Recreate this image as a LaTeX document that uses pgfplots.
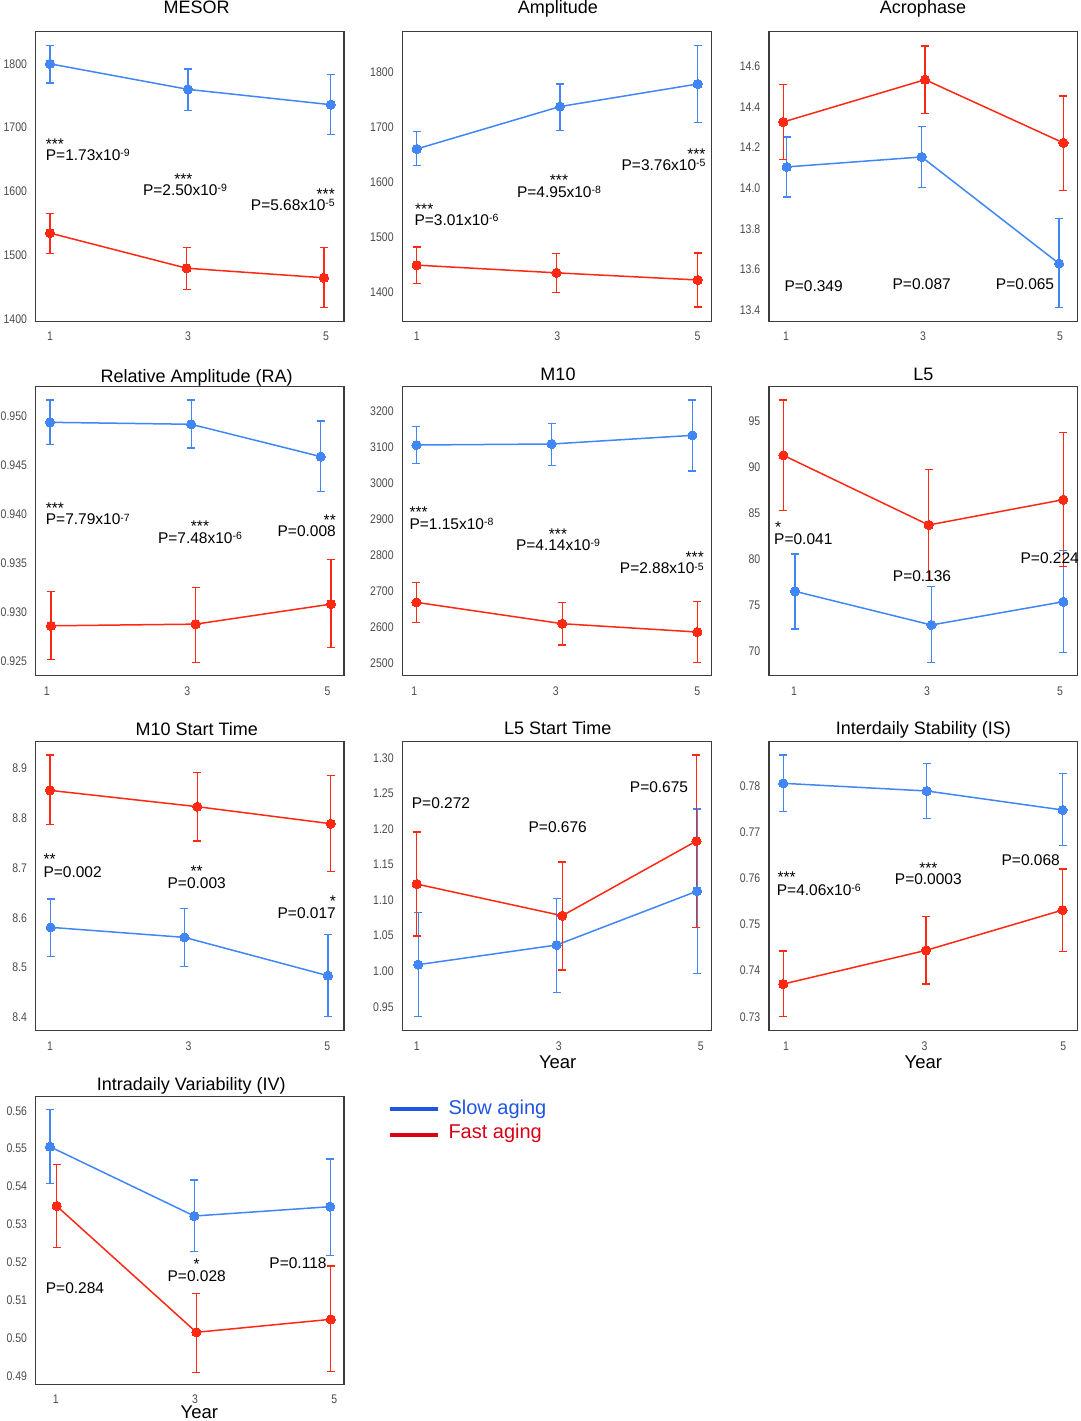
\documentclass[border=0pt]{standalone}
\usepackage{fontspec}
\setmainfont{Liberation Sans}
\newfontfamily\tickfontfam[FakeStretch=0.84]{Liberation Sans}
\usepackage{pgfplots}
\pgfplotsset{compat=1.18}
\definecolor{cblue}{RGB}{64,134,246}
\definecolor{cred}{RGB}{255,40,18}
\definecolor{lblue}{RGB}{30,85,225}
\definecolor{lred}{RGB}{220,0,20}
\definecolor{axgray}{RGB}{60,60,60}
\definecolor{tickgray}{RGB}{75,75,75}
\newcommand{\tickfont}{\tickfontfam\fontsize{12.5}{14}\selectfont}
\newcommand{\pfont}{\fontsize{15.5}{18}\selectfont}
\newcommand{\tfont}{\fontsize{18}{21}\selectfont}
\newcommand{\sups}[1]{\raisebox{3.6pt}{\fontsize{10.5}{12}\selectfont #1}}
\newcommand{\T}[4]{\node[anchor=#1,inner sep=0pt,font=\pfont] at (#2pt,#3pt) {#4};}
\newcommand{\ST}[4]{\node[anchor=#1,inner sep=0pt,font=\pfont] at (#2pt,#3pt+1.5pt) {#4};}
\newcommand{\TT}[3]{\node[anchor=base,inner sep=0pt,font=\tfont] at (#1pt,#2pt) {#3};}
\pgfplotsset{
  panel/.style={scale only axis, anchor=south west, clip=false,
    width=308.5pt, height=289pt,
    axis line style={draw=axgray, line width=1.3pt},
    xtick={1,3,5}, major tick length=0pt, tick style={draw=none},
    tick label style={font=\tickfont, text=tickgray},
    /pgf/number format/assume math mode=true,
    scaled ticks=false,
    xticklabel style={inner sep=0pt, yshift=-10.7pt},
    yticklabel style={inner sep=0pt, xshift=-8.5pt},
  },
  prec/.style={yticklabel style={/pgf/number format/.cd, fixed, fixed zerofill, precision=#1, 1000 sep={}}},
  blueS/.style={color=cblue, line width=1.5pt, mark=*, mark size=4.6pt,
    mark options={solid, fill=cblue, draw=cblue, line width=0pt},
    error bars/.cd, y dir=both, y explicit,
    error bar style={line width=1.2pt, cblue},
    error mark options={rotate=90, mark size=4pt, line width=1.2pt, cblue}},
  redS/.style={color=cred, line width=1.5pt, mark=*, mark size=4.6pt,
    mark options={solid, fill=cred, draw=cred, line width=0pt},
    error bars/.cd, y dir=both, y explicit,
    error bar style={line width=1.2pt, cred},
    error mark options={rotate=90, mark size=4pt, line width=1.2pt, cred}},
}
\begin{document}
\begin{tikzpicture}
\useasboundingbox (0pt,0pt) rectangle (1080pt,1421pt);
% 1 MESOR
\begin{axis}[panel, prec=0, at={(35.7pt,1099.7pt)}, width=308.3pt, height=289.6pt,
  xmin=0.793, xmax=5.261, ymin=1396.9, ymax=1850.3, ytick={1400,1500,1600,1700,1800}]
\addplot[blueS] coordinates {(1,1800) += (0,29) -= (0,30) (3,1760) += (0,32) -= (0,33) (5.07,1736) += (0,47) -= (0,47)};
\addplot[redS] coordinates {(1,1535) += (0,31) -= (0,32) (2.98,1480) += (0,33) -= (0,33) (4.97,1465) += (0,47) -= (0,47)};
\end{axis}
% 2 Amplitude
\begin{axis}[panel, prec=0, at={(402.3pt,1099.7pt)}, width=309.4pt, height=289.6pt,
  xmin=0.795, xmax=5.2, ymin=1347, ymax=1873, ytick={1400,1500,1600,1700,1800}]
\addplot[blueS] coordinates {(1,1660) += (0,31) -= (0,30) (3.04,1737) += (0,41) -= (0,43) (5,1778) += (0,70) -= (0,70)};
\addplot[redS] coordinates {(1,1449) += (0,33) -= (0,34) (2.99,1435) += (0,35) -= (0,35) (5,1422) += (0,49) -= (0,49)};
\end{axis}
% 3 Acrophase
\begin{axis}[panel, prec=1, at={(769pt,1099.7pt)}, width=308.7pt, height=289.6pt,
  xmin=0.752, xmax=5.258, ymin=13.346, ymax=14.77, ytick={13.4,13.6,13.8,14.0,14.2,14.4,14.6}]
\addplot[blueS] coordinates {(1.01,14.105) += (0,0.147) -= (0,0.148) (2.98,14.154) += (0,0.148) -= (0,0.151) (4.985,13.63) += (0,0.22) -= (0,0.217)};
\addplot[redS] coordinates {(0.96,14.326) += (0,0.184) -= (0,0.183) (3.03,14.534) += (0,0.166) -= (0,0.165) (5.05,14.223) += (0,0.231) -= (0,0.233)};
\end{axis}
% 4 RA
\begin{axis}[panel, prec=3, at={(35.7pt,745.3pt)}, width=308.3pt,
  xmin=0.843, xmax=5.233, ymin=0.92347, ymax=0.95307, ytick={0.925,0.930,0.935,0.940,0.945,0.950}]
\addplot[blueS] coordinates {(1.047,0.94942) += (0,0.00228) -= (0,0.00225) (3.057,0.94922) += (0,0.00248) -= (0,0.00242) (4.90,0.94591) += (0,0.00365) -= (0,0.00358)};
\addplot[redS] coordinates {(1.06,0.92858) += (0,0.00352) -= (0,0.00348) (3.12,0.92875) += (0,0.00378) -= (0,0.00389) (5.047,0.9308) += (0,0.00457) -= (0,0.00444)};
\end{axis}
% 5 M10
\begin{axis}[panel, prec=0, at={(402.3pt,745.3pt)}, width=309.4pt,
  xmin=0.83, xmax=5.203, ymin=2465.8, ymax=3267.5, ytick={2500,2600,2700,2800,2900,3000,3100,3200}]
\addplot[blueS] coordinates {(1.03,3105.7) += (0,51) -= (0,52) (2.94,3108.5) += (0,57) -= (0,60) (4.93,3132.5) += (0,98) -= (0,99)};
\addplot[redS] coordinates {(1.03,2669.2) += (0,55) -= (0,55) (3.09,2610) += (0,58) -= (0,59) (5.0,2586.9) += (0,84) -= (0,84)};
\end{axis}
% 6 L5
\begin{axis}[panel, prec=0, at={(769pt,745.3pt)}, width=308.7pt,
  xmin=0.624, xmax=5.266, ymin=67.39, ymax=98.8, ytick={70,75,80,85,90,95}]
\addplot[blueS] coordinates {(1.015,76.56) += (0,4.06) -= (0,4.1) (3.066,72.9) += (0,4.17) -= (0,4.06) (5.05,75.43) += (0,5.55) -= (0,5.5)};
\addplot[redS] coordinates {(0.84,91.34) += (0,6.02) -= (0,6.01) (3.025,83.77) += (0,6.05) -= (0,6.05) (5.05,86.52) += (0,7.32) -= (0,7.28)};
\end{axis}
% 7 M10 Start Time
\begin{axis}[panel, prec=1, at={(35.7pt,390.3pt)}, width=308.3pt,
  xmin=0.794, xmax=5.241, ymin=8.3732, ymax=8.9535, ytick={8.4,8.5,8.6,8.7,8.8,8.9}]
\addplot[blueS] coordinates {(1.01,8.5807) += (0,0.0569) -= (0,0.0582) (2.94,8.5606) += (0,0.0583) -= (0,0.0582) (5.01,8.4836) += (0,0.083) -= (0,0.0823)};
\addplot[redS] coordinates {(1.0,8.8558) += (0,0.071) -= (0,0.0682) (3.125,8.823) += (0,0.0683) -= (0,0.0689) (5.05,8.7888) += (0,0.0971) -= (0,0.0964)};
\end{axis}
% 8 L5 Start Time
\begin{axis}[panel, prec=2, at={(402.3pt,390.3pt)}, width=309.4pt,
  xmin=0.797, xmax=5.155, ymin=0.9163, ymax=1.3225, ytick={0.95,1.00,1.05,1.10,1.15,1.20,1.25,1.30}]
\addplot[blueS] coordinates {(1.02,1.0091) += (0,0.0735) -= (0,0.0732) (2.97,1.0367) += (0,0.0656) -= (0,0.0671) (4.95,1.1125) += (0,0.1153) -= (0,0.1156)};
\addplot[redS] coordinates {(1.0,1.1224) += (0,0.0731) -= (0,0.0731) (3.05,1.0779) += (0,0.0755) -= (0,0.0763) (4.94,1.1829) += (0,0.1208) -= (0,0.1214)};
\end{axis}
% 9 IS
\begin{axis}[panel, prec=2, at={(769pt,390.3pt)}, width=308.7pt,
  xmin=0.755, xmax=5.208, ymin=0.72697, ymax=0.7896, ytick={0.73,0.74,0.75,0.76,0.77,0.78}]
\addplot[blueS] coordinates {(0.96,0.78058) += (0,0.00614) -= (0,0.00614) (3.03,0.77892) += (0,0.006) -= (0,0.006) (4.99,0.7748) += (0,0.00787) -= (0,0.00766)};
\addplot[redS] coordinates {(0.96,0.73708) += (0,0.00715) -= (0,0.00708) (3.02,0.74438) += (0,0.0073) -= (0,0.0073) (4.99,0.75312) += (0,0.0089) -= (0,0.00904)};
\end{axis}
% 10 IV
\begin{axis}[panel, prec=2, at={(35.7pt,36.7pt)}, width=308.3pt, height=287.6pt,
  xmin=0.713, xmax=5.139, ymin=0.4878, ymax=0.5637, ytick={0.49,0.50,0.51,0.52,0.53,0.54,0.55,0.56}]
\addplot[blueS] coordinates {(0.918,0.5505) += (0,0.00985) -= (0,0.00976) (2.99,0.53221) += (0,0.0095) -= (0,0.00941) (4.94,0.53467) += (0,0.01258) -= (0,0.01293)};
\addplot[redS] coordinates {(1.014,0.53485) += (0,0.01099) -= (0,0.01091) (3.02,0.50152) += (0,0.01029) -= (0,0.01059) (4.95,0.50495) += (0,0.01405) -= (0,0.01384)};
\end{axis}
% titles
\TT{196.7}{1407}{MESOR}
\TT{557.8}{1407.7}{Amplitude}
\TT{923}{1407.7}{Acrophase}
\TT{196.7}{1038.7}{Relative Amplitude (RA)}
\TT{558}{1040}{M10}
\TT{923.3}{1040}{L5}
\TT{196.7}{685}{M10 Start Time}
\TT{557.8}{686}{L5 Start Time}
\TT{923.3}{686}{Interdaily Stability (IS)}
\TT{191.2}{330}{Intradaily Variability (IV)}
\node[anchor=base,inner sep=0pt,font=\fontsize{18.5}{21}\selectfont] at (557.7pt,352.7pt) {Year};
\node[anchor=base,inner sep=0pt,font=\fontsize{18.5}{21}\selectfont] at (923.3pt,352.7pt) {Year};
\node[anchor=base,inner sep=0pt,font=\fontsize{18.5}{21}\selectfont] at (199.3pt,2.5pt) {Year};
% panel 1
\ST{base west}{45.7}{1270.4}{***}
\T{base west}{45.7}{1260.5}{P=1.73x10\sups{-9}}
\ST{base}{183.3}{1235.4}{***}
\T{base}{185}{1225.5}{P=2.50x10\sups{-9}}
\ST{base east}{335}{1220.4}{***}
\T{base east}{335}{1210.5}{P=5.68x10\sups{-5}}
% panel 2
\ST{base west}{415}{1205.4}{***}
\T{base west}{414.3}{1195.5}{P=3.01x10\sups{-6}}
\ST{base}{559}{1233.8}{***}
\T{base}{559}{1223.8}{P=4.95x10\sups{-8}}
\ST{base east}{705.7}{1259.8}{***}
\T{base east}{705.7}{1250.5}{P=3.76x10\sups{-5}}
% panel 3
\T{base west}{784.3}{1129.8}{P=0.349}
\T{base}{921.7}{1131.5}{P=0.087}
\T{base east}{1054.3}{1131.5}{P=0.065}
% panel 4
\ST{base west}{45.7}{906.4}{***}
\T{base west}{45.7}{896.2}{P=7.79x10\sups{-7}}
\ST{base}{200}{887.8}{***}
\T{base}{200}{877.8}{P=7.48x10\sups{-6}}
\ST{base east}{336}{894.4}{**}
\T{base east}{336}{884.5}{P=0.008}
% panel 5
\ST{base west}{409.3}{901.8}{***}
\T{base west}{409.3}{891.5}{P=1.15x10\sups{-8}}
\ST{base}{558}{880.4}{***}
\T{base}{558}{870.5}{P=4.14x10\sups{-9}}
\ST{base east}{704}{857.1}{***}
\T{base east}{704}{847.2}{P=2.88x10\sups{-5}}
% panel 6
\ST{base west}{775}{887.1}{*}
\T{base west}{774}{876.5}{P=0.041}
\T{base}{922}{839.8}{P=0.136}
\T{base east}{1079}{857.8}{P=0.224}
% panel 7
\ST{base west}{43.3}{555.4}{**}
\T{base west}{43.3}{543.8}{P=0.002}
\ST{base}{196.7}{542.8}{**}
\T{base}{196.7}{532.8}{P=0.003}
\ST{base east}{336}{512.8}{*}
\T{base east}{336}{502.2}{P=0.017}
% panel 8
\T{base west}{411.7}{612.2}{P=0.272}
\T{base}{557.7}{588.8}{P=0.676}
\T{base east}{688.3}{628.8}{P=0.675}
% panel 9
\ST{base west}{777.3}{537.1}{***}
\T{base west}{776.7}{525.5}{P=4.06x10\sups{-6}}
\ST{base}{928.3}{546.4}{***}
\T{base}{928.3}{536.2}{P=0.0003}
\T{base east}{1060}{555.5}{P=0.068}
% panel 10
\T{base west}{45.7}{127.8}{P=0.284}
\ST{base}{196.7}{150.4}{*}
\T{base}{196.7}{139.5}{P=0.028}
\T{base east}{326.7}{152.2}{P=0.118}
% legend
\draw[lblue, line width=4pt] (390pt,311.7pt) -- (438.3pt,311.7pt);
\draw[lred, line width=4pt] (390pt,286pt) -- (438.3pt,286pt);
\node[anchor=base west,inner sep=0pt,font=\fontsize{20}{24}\selectfont,text=lblue] at (448.3pt,306.7pt) {Slow aging};
\node[anchor=base west,inner sep=0pt,font=\fontsize{20}{24}\selectfont,text=lred] at (448.3pt,282.7pt) {Fast aging};
\end{tikzpicture}
\end{document}
